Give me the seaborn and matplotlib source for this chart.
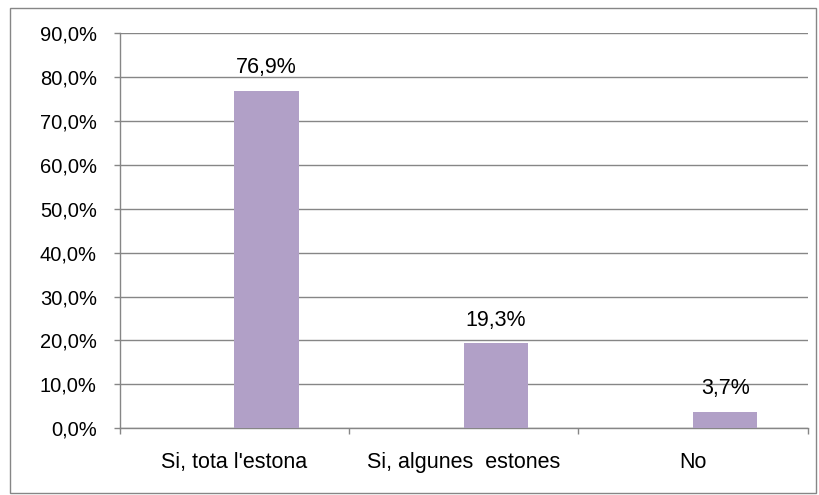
import numpy as np
import pandas as pd
import matplotlib
matplotlib.use('Agg')
import matplotlib.pyplot as plt
import seaborn as sns
from matplotlib.patches import Rectangle
from matplotlib.ticker import FuncFormatter, MultipleLocator

categories = ["Si, tota l'estona", "Si, algunes  estones", "No"]
values = [76.9, 19.3, 3.7]
labels = ["76,9%", "19,3%", "3,7%"]
# Excel-style layout: an empty first series pushes the bars right of centre
series = ["buit", "resposta"]

sns.set_theme(style="white")
plt.rcParams['font.family'] = ['Liberation Sans', 'DejaVu Sans']

df = pd.DataFrame({
    'cat': categories * 2,
    'serie': [series[0]] * 3 + [series[1]] * 3,
    'val': [np.nan] * 3 + values,
})

fig = plt.figure(figsize=(8.2, 4.95), dpi=100)
ax = fig.add_axes([0.146, 0.135, 0.839, 0.798])

purple = '#B1A0C7'
sns.barplot(data=df, x='cat', y='val', hue='serie', hue_order=series,
            palette=[purple, purple], saturation=1, width=0.56, gap=0,
            legend=False, ax=ax, zorder=3, errorbar=None, edgecolor='none')

grey = '#868686'
ax.set_ylim(0, 90)
ax.set_xlim(-0.5, 2.5)
ax.yaxis.set_major_locator(MultipleLocator(10))
ax.yaxis.set_major_formatter(FuncFormatter(lambda v, p: f"{v:.1f}".replace('.', ',') + '%'))
ax.grid(axis='y', color=grey, linewidth=1, zorder=0)
ax.set_axisbelow(True)

for s in ['top', 'right']:
    ax.spines[s].set_visible(False)
for s in ['left', 'bottom']:
    ax.spines[s].set_color(grey)
    ax.spines[s].set_linewidth(1)

ax.set_xticks([0, 1, 2])
ax.set_xticklabels(categories)
ax.set_xticks([-0.5, 0.5, 1.5, 2.5], minor=True)
ax.tick_params(axis='x', which='major', length=0, pad=17, labelsize=15.5, colors='black')
ax.tick_params(axis='x', which='minor', length=4.5, width=1, color=grey, direction='out', bottom=True)
ax.tick_params(axis='y', length=4.5, width=1, color=grey, direction='out', left=True,
               labelsize=14.5, labelcolor='black', pad=12)
ax.set_xlabel('')
ax.set_ylabel('')

main = ax.containers[-1]
ax.bar_label(main, labels=labels, padding=9, fontsize=15.5, color='black')

fig.patches.append(Rectangle((10 / 820, 2 / 495), 806 / 820, 485 / 495,
                             transform=fig.transFigure, fill=False,
                             edgecolor=grey, linewidth=1))

fig.savefig('out.png', dpi=100, facecolor='white')
